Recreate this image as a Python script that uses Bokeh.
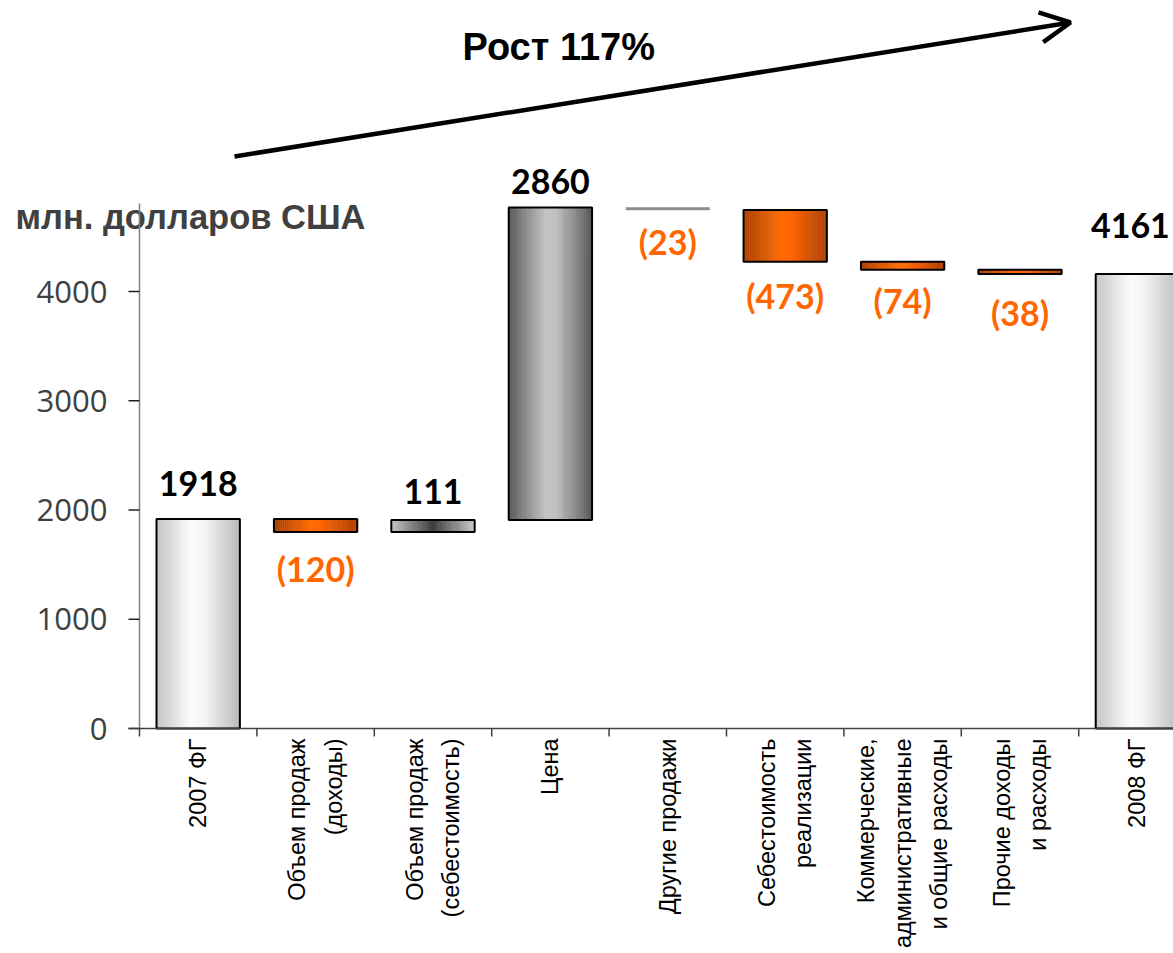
import math
from bokeh.plotting import figure
from bokeh.models import ColumnDataSource, Arrow, OpenHead
from bokeh.core.properties import value
from bokeh.embed import file_html
from bokeh.resources import INLINE

# ---------------- data ----------------
categories = ["2007 ФГ", "Объем продаж\n(доходы)", "Объем продаж\n(себестоимость)", "Цена",
              "Другие продажи", "Себестоимость\nреализации",
              "Коммерческие,\nадминистративные\nи общие расходы", "Прочие доходы\nи расходы", "2008 ФГ"]
values = [1918, -120, 111, 2860, -23, -473, -74, -38, 4161]
is_total = [True, False, False, False, False, False, False, False, True]
y_ticks = [0, 1000, 2000, 3000, 4000]
growth_text = "Рост 117%"
unit_text = "млн. долларов США"

# ---------------- styles ----------------
bar_style = ["light", "orange", "invgray", "dark", "thin", "orange", "orange", "orange", "light"]
label_gap = [23, 23, 16, 14, 19, 21, 18, 26, 36]
label_dx = [0, 0, 0, 0, 0, 0, 0, 0, -7]
gradients = {
    "light": [(0.0, (196, 196, 196)), (0.42, (252, 252, 252)), (0.58, (244, 244, 244)), (1.0, (186, 186, 186))],
    "dark": [(0.0, (88, 88, 88)), (0.45, (196, 196, 196)), (0.58, (190, 190, 190)), (1.0, (88, 88, 88))],
    "invgray": [(0.0, (200, 200, 200)), (0.5, (60, 60, 60)), (1.0, (200, 200, 200))],
    "orange": [(0.0, (168, 64, 0)), (0.45, (255, 106, 0)), (0.55, (255, 102, 0)), (1.0, (176, 64, 0))],
}
BAR_W = 0.71
N_STRIPS = 40
CAT_PX = 117.4          # px per category
LEFT_PX = 139           # screen px of the y axis
ZERO_PX = 728           # screen px of y = 0
FIG_W, FIG_H = 1173, 953
Y_PX = 0.10925          # px per unit
BASE_FIX = 12           # baseline correction (px)
AXIS_TOP = 4805

x_start = -LEFT_PX / CAT_PX
x_end = x_start + FIG_W / CAT_PX
y_end = ZERO_PX / Y_PX
y_start = -(FIG_H - ZERO_PX) / Y_PX


def grad_color(stops, t):
    for (t0, c0), (t1, c1) in zip(stops[:-1], stops[1:]):
        if t0 <= t <= t1:
            f = 0 if t1 == t0 else (t - t0) / (t1 - t0)
            c = [int(round(a + (b - a) * f)) for a, b in zip(c0, c1)]
            return "#%02x%02x%02x" % tuple(c)
    return "#%02x%02x%02x" % stops[-1][1]


def sx(px):
    return (px - LEFT_PX) / CAT_PX


def sy(px):
    return (ZERO_PX - px) / Y_PX


# waterfall geometry
bottoms, tops = [], []
running = 0
for v, tot in zip(values, is_total):
    if tot:
        b, t = 0, v
        running = v
    else:
        b, t = running, running + v
        running = running + v
    bottoms.append(min(b, t))
    tops.append(max(b, t))

centers = [i + 0.5 for i in range(len(categories))]

p = figure(frame_width=FIG_W, frame_height=FIG_H, x_range=(x_start, x_end), y_range=(y_start, y_end),
           output_backend="svg", toolbar_location=None, x_axis_location=None, y_axis_location=None,
           min_border_left=0, min_border_right=0, min_border_top=0, min_border_bottom=0)
p.outline_line_color = None
p.xgrid.visible = False
p.ygrid.visible = False
p.background_fill_color = "white"
p.border_fill_color = "white"

# gradient strips
sl, sr, st, sb, sc = [], [], [], [], []
ol, orr, ot, ob = [], [], [], []
thin_l, thin_r, thin_t, thin_b = [], [], [], []
for i, (c, b, t, style) in enumerate(zip(centers, bottoms, tops, bar_style)):
    left = c - BAR_W / 2
    if style == "thin":
        thin_l.append(left); thin_r.append(left + BAR_W); thin_t.append(t); thin_b.append(b)
        continue
    stops = gradients[style]
    for k in range(N_STRIPS):
        x0 = left + BAR_W * k / N_STRIPS
        x1 = left + BAR_W * (k + 1) / N_STRIPS
        sl.append(x0); sr.append(x1); st.append(t); sb.append(b)
        sc.append(grad_color(stops, (k + 0.5) / N_STRIPS))
    ol.append(left); orr.append(left + BAR_W); ot.append(t); ob.append(b)

p.quad(source=ColumnDataSource(dict(left=sl, right=sr, top=st, bottom=sb, color=sc)),
       left="left", right="right", top="top", bottom="bottom",
       fill_color="color", line_color="color", line_width=0.6)
p.quad(left=ol, right=orr, top=ot, bottom=ob, fill_color=None, line_color="black", line_width=2)
p.quad(left=thin_l, right=thin_r, top=thin_t, bottom=thin_b, fill_color="#8c8c8c",
       line_color="#8c8c8c", line_width=0.5)

# value labels
lx, ly, lt, lc, lo = [], [], [], [], []
for c, v, b, t, gap in zip(centers, values, bottoms, tops, label_gap):
    lx.append(c)
    if v >= 0:
        ly.append(t); lt.append(str(v)); lc.append("black"); lo.append(-(gap + BASE_FIX))
    else:
        ly.append(b); lt.append("(%d)" % abs(v)); lc.append("#ff6600"); lo.append(gap + 25 - BASE_FIX)
p.text(source=ColumnDataSource(dict(x=lx, y=ly, text=lt, color=lc, off=lo, dx=label_dx)),
       x="x", y="y", text="text", text_color="color", y_offset="off", x_offset="dx",
       text_align="center", text_baseline="alphabetic",
       text_font=value("Lato"), text_font_style="bold", text_font_size="34px")

# unit caption (drawn before the axis line so the line lies over it)
p.text(x=[sx(15)], y=[sy(228 - BASE_FIX)], text=[unit_text], text_font=value("Liberation Sans"),
       text_font_style="bold", text_font_size="34.5px", text_color="#404040",
       text_baseline="alphabetic", text_align="left")

# y axis
p.segment(x0=[0], y0=[0], x1=[0], y1=[AXIS_TOP], line_color="#808080", line_width=1.5)
p.segment(x0=[-11 / CAT_PX] * len(y_ticks), y0=y_ticks, x1=[0] * len(y_ticks), y1=y_ticks,
          line_color="#202020", line_width=1.5)
p.text(x=[0] * len(y_ticks), y=y_ticks, text=[str(t) for t in y_ticks], x_offset=-32,
       text_align="right", text_baseline="middle", text_font=value("Open Sans"),
       text_font_size="31px", text_color="#404040")

# x axis
bounds = list(range(len(categories) + 1))
p.segment(x0=[-11 / CAT_PX], y0=[0], x1=[x_end], y1=[0], line_color="#404040", line_width=1.5)
p.segment(x0=bounds, y0=[0] * len(bounds), x1=bounds, y1=[-8 / Y_PX] * len(bounds),
          line_color="#404040", line_width=1.5)
p.text(x=centers, y=[0] * len(centers), text=categories, angle=math.pi / 2, y_offset=10,
       text_align="right", text_baseline="middle", text_font=value("Liberation Sans"),
       text_font_size="23.5px", text_color="black", text_line_height=1.4)

# growth annotation
p.text(x=[sx(462)], y=[sy(58 - BASE_FIX)], text=[growth_text], text_font=value("Liberation Sans"),
       text_font_style="bold", text_font_size="38px", text_color="black",
       text_baseline="alphabetic", text_align="left")
p.add_layout(Arrow(end=OpenHead(size=30, line_width=4.5, line_color="black"),
                   x_start=sx(234), y_start=sy(156), x_end=sx(1070), y_end=sy(22),
                   line_width=4.5, line_color="black"))

open("out.html", "w").write(file_html(p, INLINE))
